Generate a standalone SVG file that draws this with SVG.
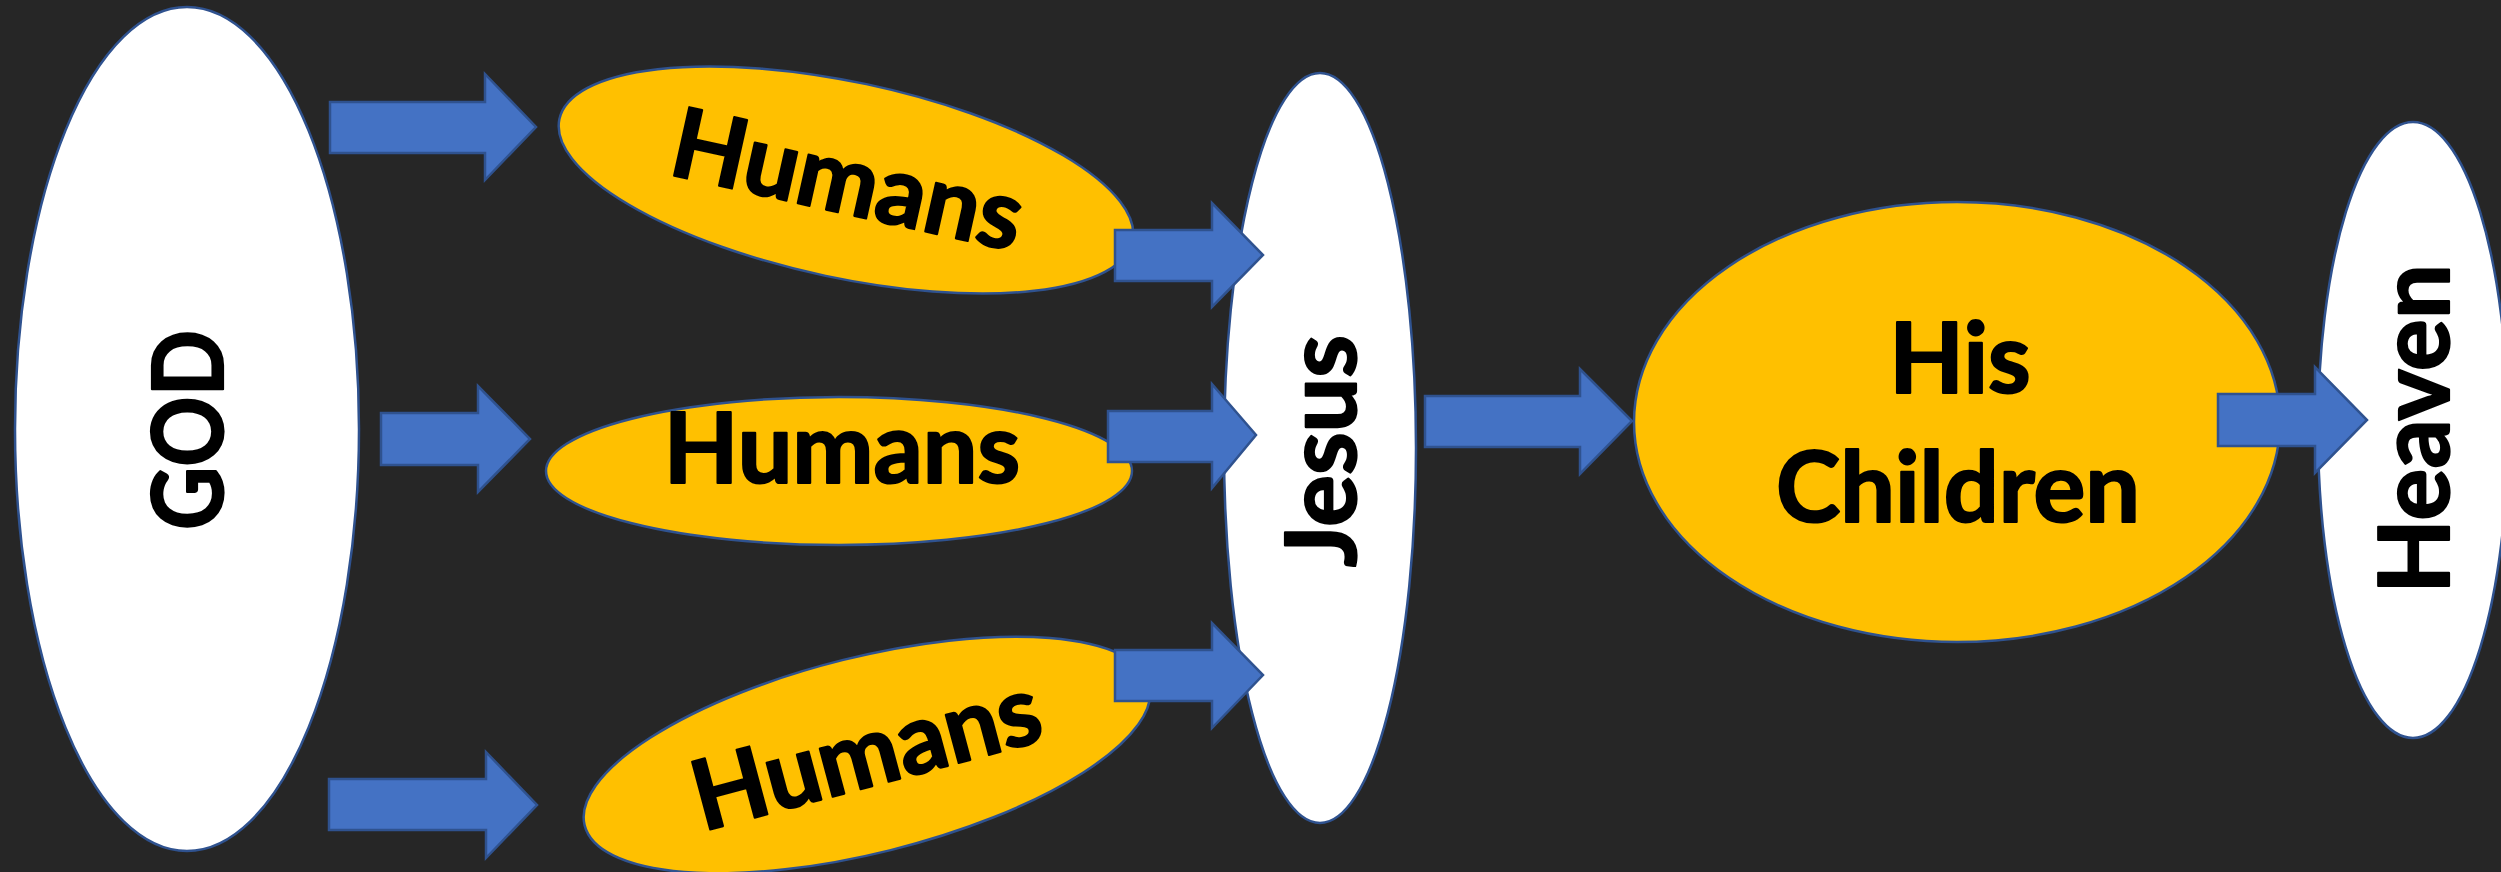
<svg xmlns="http://www.w3.org/2000/svg" width="2501" height="872" viewBox="0 0 2501 872">
<style>
.bg{fill:#262626}
.white{fill:#FFFFFF;stroke:#2F528F;stroke-width:2.5}
.gold{fill:#FFC000;stroke:#2F528F;stroke-width:2.5}
.arrow{fill:#4472C4;stroke:#2F528F;stroke-width:2.5;stroke-linejoin:miter}
.lbl{font-family:Lato,"Open Sans","Liberation Sans",sans-serif;font-weight:bold;font-size:97px;fill:#000000;stroke:#000000;stroke-width:2.2;stroke-linejoin:round;text-anchor:middle}
</style>
<rect class="bg" x="0" y="0" width="2501" height="872"/>
<g id="god">
<ellipse class="white" cx="187" cy="429" rx="172" ry="422"/>
<text class="lbl" transform="translate(188,430) rotate(-90)" x="0" y="34.5" textLength="200" lengthAdjust="spacingAndGlyphs">GOD</text>
</g>
<g id="humans1">
<ellipse class="gold" transform="translate(846,180) rotate(12)" cx="0" cy="0" rx="293" ry="98"/>
<text class="lbl" transform="translate(848,179) rotate(12.5)" x="0" y="34.5">Humans</text>
</g>
<g id="humans2">
<ellipse class="gold" cx="839" cy="471" rx="293" ry="74"/>
<text class="lbl" x="842" y="483">Humans</text>
</g>
<g id="humans3">
<ellipse class="gold" transform="translate(867,755) rotate(-14)" cx="0" cy="0" rx="291" ry="98"/>
<text class="lbl" transform="translate(866,752) rotate(-15)" x="0" y="34.5">Humans</text>
</g>
<g id="jesus">
<ellipse class="white" cx="1320" cy="448" rx="96" ry="375"/>
<text class="lbl" transform="translate(1321.5,451) rotate(-90)" x="0" y="34.5">Jesus</text>
</g>
<g id="his-children">
<ellipse class="gold" cx="1957" cy="422" rx="323" ry="220"/>
<text class="lbl" x="1960" y="393">His</text>
<text class="lbl" x="1958" y="522">Children</text>
</g>
<g id="heaven">
<ellipse class="white" cx="2413" cy="430" rx="95" ry="308"/>
<text class="lbl" transform="translate(2414.5,429) rotate(-90)" x="0" y="34.5">Heaven</text>
</g>
<g id="connectors">
<polygon class="arrow" points="330,102 485,102 485,74 536,127 485,180 485,153 330,153"/>
<polygon class="arrow" points="381,413 478,413 478,386 530,439 478,492 478,465 381,465"/>
<polygon class="arrow" points="329,779 486,779 486,752 537,805 486,858 486,830 329,830"/>
<polygon class="arrow" points="1115,230 1212,230 1212,203 1263,255 1212,307 1212,281 1115,281"/>
<polygon class="arrow" points="1108,411 1212,411 1212,384 1256,435 1212,488 1212,462 1108,462"/>
<polygon class="arrow" points="1115,650 1212,650 1212,623 1263,675 1212,728 1212,701 1115,701"/>
<polygon class="arrow" points="1425,396 1580,396 1580,369 1632,421 1580,474 1580,447 1425,447"/>
<polygon class="arrow" points="2218,394 2315,394 2315,367 2367,420 2315,473 2315,446 2218,446"/>
</g>
</svg>
